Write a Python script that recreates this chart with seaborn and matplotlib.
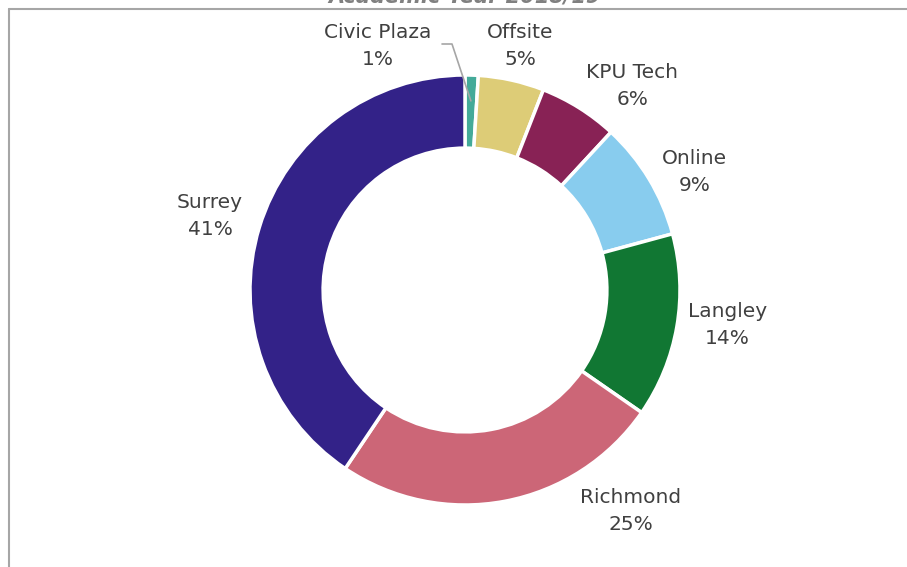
import numpy as np
import matplotlib
matplotlib.use("Agg")
import matplotlib.pyplot as plt
import seaborn as sns

# campus share of enrolment, clockwise from 12 o'clock
campuses = ["Civic Plaza", "Offsite", "KPU Tech", "Online", "Langley", "Richmond", "Surrey"]
shares = [1, 5, 6, 9, 14, 25, 41]
colors = ["#44AA99", "#DDCC77", "#882255", "#88CCEE", "#117733", "#CC6677", "#332288"]
title = "Academic Year 2018/19"

# label placement (degrees clockwise from top, distance in radii)
label_angle = [-19.6, 12.7, 39.3, 62.8, 97.6, 143.1, 286.2]
label_dist = [1.205, 1.163, 1.228, 1.20, 1.23, 1.284, 1.235]

sns.set_theme(style="white")
plt.rcParams["font.family"] = ["DejaVu Sans"]

W, H = 907, 567
cx, cy, R = 465, 290, 215
fig = plt.figure(figsize=(W / 100, H / 100), dpi=100)
ax = fig.add_axes([0, 0, 1, 1])

ax.pie(shares, colors=colors, startangle=90, counterclock=False, radius=1,
       wedgeprops=dict(width=0.34, edgecolor="white", linewidth=2.5))
ax.set_aspect("auto")
ax.set_xlim(-cx / R, (W - cx) / R)
ax.set_ylim(-(H - cy) / R, cy / R)
ax.axis("off")

# chart frame (cropped screenshot: only top and left edges visible)
fig.add_artist(plt.Line2D([9 / W, 1], [1 - 9 / H] * 2, color="#A6A6A6", lw=1.5))
fig.add_artist(plt.Line2D([9 / W] * 2, [0, 1 - 9 / H], color="#A6A6A6", lw=1.5))

# title sits mostly above the cropped top edge, as in the screenshot
fig.text(cx / W, 1 - 2 / H, title, ha="center", va="baseline", fontsize=15,
         color="#808080", fontweight="bold", fontstyle="italic")

total = sum(shares)
cum = np.cumsum([0] + shares)
for i, (name, v) in enumerate(zip(campuses, shares)):
    a = np.deg2rad(label_angle[i])
    x, y = label_dist[i] * np.sin(a), label_dist[i] * np.cos(a)
    ax.text(x, y, f"{name}\n{v}%", ha="center", va="center", fontsize=14.5,
            color="#404040", linespacing=1.55)

# leader line for the thin Civic Plaza slice
mid = np.deg2rad((cum[0] + cum[1]) / 2 / total * 360)
lx = (442 - cx) / R
ly = (cy - 44) / R
ax.plot([lx, lx + 10 / R, 0.88 * np.sin(mid)], [ly, ly, 0.88 * np.cos(mid)],
        color="#A6A6A6", lw=1.2)

fig.savefig("out.png", dpi=100)
